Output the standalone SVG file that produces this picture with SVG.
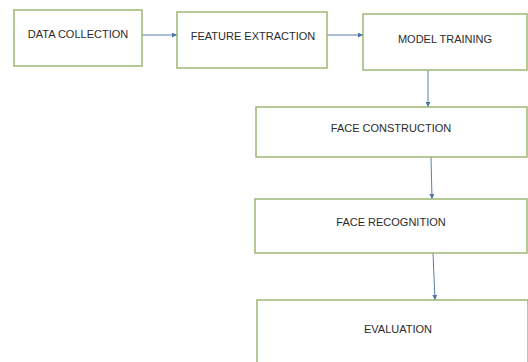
<svg xmlns="http://www.w3.org/2000/svg" width="528" height="362" viewBox="0 0 528 362">
<style>
.box{fill:#ffffff;stroke:#95b36a;stroke-width:1.4}
.lbl{font-family:"Liberation Sans",Arial,sans-serif;font-size:11px;fill:#2b2b2b;text-anchor:middle}
.conn{stroke:#5b7fae;stroke-width:1;fill:none;marker-end:url(#ah)}
</style>
<defs>
<marker id="ah" viewBox="0 0 10 10" refX="10" refY="5" markerWidth="5" markerHeight="5" orient="auto" markerUnits="userSpaceOnUse">
<path d="M0,0 L10,5 L0,10 z" fill="#4f74a6"/>
</marker>
</defs>
<rect width="528" height="362" fill="#ffffff"/>
<g id="connectors">
<line class="conn" x1="142" y1="35" x2="177" y2="35"/>
<line class="conn" x1="327" y1="35" x2="363" y2="35"/>
<line class="conn" x1="428" y1="70" x2="428" y2="107"/>
<line class="conn" x1="431" y1="157" x2="432" y2="199"/>
<line class="conn" x1="433" y1="253" x2="435" y2="300"/>
</g>
<g id="data-collection">
<rect class="box" x="14" y="10" width="128" height="56"/>
<text class="lbl" x="78" y="38">DATA COLLECTION</text>
</g>
<g id="feature-extraction">
<rect class="box" x="177" y="12" width="150" height="56"/>
<text class="lbl" x="253" y="40">FEATURE EXTRACTION</text>
</g>
<g id="model-training">
<rect class="box" x="363" y="14" width="164" height="56"/>
<text class="lbl" x="445" y="43">MODEL TRAINING</text>
</g>
<g id="face-construction">
<rect class="box" x="256" y="107" width="271" height="50"/>
<text class="lbl" x="391" y="132">FACE CONSTRUCTION</text>
</g>
<g id="face-recognition">
<rect class="box" x="255" y="199" width="272" height="54"/>
<text class="lbl" x="391" y="226">FACE RECOGNITION</text>
</g>
<g id="evaluation">
<rect class="box" x="257" y="300" width="271" height="70"/>
<text class="lbl" x="398" y="333">EVALUATION</text>
</g>
</svg>
